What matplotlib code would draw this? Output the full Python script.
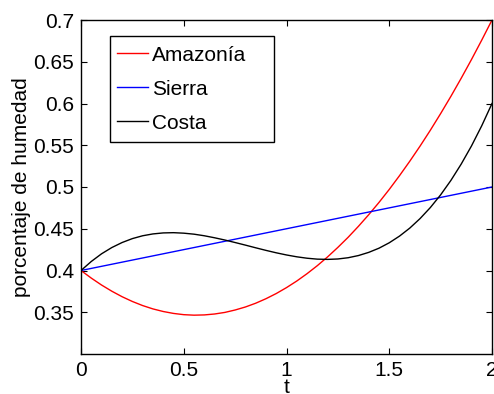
import matplotlib
matplotlib.use("Agg")
import matplotlib.pyplot as plt
from matplotlib.patches import Rectangle

plt.rcParams['font.family'] = ['Liberation Sans', 'DejaVu Sans']

# Humidity percentage over time for three regions
t = [0.0, 0.05, 0.1, 0.15, 0.2, 0.25, 0.3, 0.35, 0.4, 0.45, 0.5,
     0.55, 0.6, 0.65, 0.7, 0.75, 0.8, 0.85, 0.9, 0.95, 1.0,
     1.05, 1.1, 1.15, 1.2, 1.25, 1.3, 1.35, 1.4, 1.45, 1.5,
     1.55, 1.6, 1.65, 1.7, 1.75, 1.8, 1.85, 1.9, 1.95, 2.0]
amazonia = [0.4000, 0.3909, 0.3826, 0.3752, 0.3686, 0.3629, 0.3580, 0.3540,
            0.3509, 0.3486, 0.3471, 0.3465, 0.3468, 0.3479, 0.3498, 0.3527,
            0.3563, 0.3608, 0.3662, 0.3724, 0.3795, 0.3874, 0.3962, 0.4058,
            0.4163, 0.4277, 0.4398, 0.4529, 0.4668, 0.4815, 0.4971, 0.5136,
            0.5309, 0.5490, 0.5680, 0.5879, 0.6086, 0.6302, 0.6526, 0.6759,
            0.7000]
sierra = [0.4000, 0.4025, 0.4050, 0.4075, 0.4100, 0.4125, 0.4150, 0.4175,
          0.4200, 0.4225, 0.4250, 0.4275, 0.4300, 0.4325, 0.4350, 0.4375,
          0.4400, 0.4425, 0.4450, 0.4475, 0.4500, 0.4525, 0.4550, 0.4575,
          0.4600, 0.4625, 0.4650, 0.4675, 0.4700, 0.4725, 0.4750, 0.4775,
          0.4800, 0.4825, 0.4850, 0.4875, 0.4900, 0.4925, 0.4950, 0.4975,
          0.5000]
costa = [0.4000, 0.4108, 0.4200, 0.4275, 0.4335, 0.4382, 0.4416, 0.4438,
         0.4450, 0.4453, 0.4447, 0.4435, 0.4416, 0.4392, 0.4365, 0.4335,
         0.4304, 0.4272, 0.4241, 0.4212, 0.4186, 0.4164, 0.4147, 0.4136,
         0.4133, 0.4138, 0.4153, 0.4179, 0.4217, 0.4267, 0.4332, 0.4412,
         0.4508, 0.4622, 0.4754, 0.4906, 0.5079, 0.5274, 0.5491, 0.5733,
         0.6000]

labels = ['Amazonía', 'Sierra', 'Costa']
xticks = [0, 0.5, 1, 1.5, 2]
xtick_labels = ['0', '0.5', '1', '1.5', '2']
yticks = [0.35, 0.4, 0.45, 0.5, 0.55, 0.6, 0.65, 0.7]
ytick_labels = ['0.35', '0.4', '0.45', '0.5', '0.55', '0.6', '0.65', '0.7']

fig = plt.figure(figsize=(4.94, 3.94), dpi=100)
ax = fig.add_axes([81 / 494, 40 / 394, 411 / 494, 334 / 394])

ax.plot(t, amazonia, color='#ff0000', lw=1.0, label=labels[0])
ax.plot(t, sierra, color='#0000ff', lw=1.0, label=labels[1])
ax.plot(t, costa, color='#000000', lw=1.0, label=labels[2])

ax.set_xlim(0, 2)
ax.set_ylim(0.3, 0.7)
ax.set_xticks(xticks)
ax.set_xticklabels(xtick_labels)
ax.set_yticks(yticks)
ax.set_yticklabels(ytick_labels)
ax.tick_params(direction='in', length=4, width=0.8, labelsize=15,
               top=True, right=True, pad=5)
for s in ax.spines.values():
    s.set_linewidth(1.0)

ax.set_xlabel('t', fontsize=15, labelpad=-1.5)
ax.set_ylabel('porcentaje de humedad', fontsize=15, labelpad=2)

# legend entries without frame, boxed by a separate rectangle
leg = ax.legend(loc='center left', bbox_to_anchor=(0.0876, 0.7934),
                fontsize=15, frameon=False, borderpad=0, labelspacing=0.72,
                handlelength=1.5, handletextpad=0.2, borderaxespad=0)
box = Rectangle((0.0706, 0.635), 0.399, 0.318, transform=ax.transAxes,
                facecolor='white', edgecolor='black', lw=1.0, zorder=4)
ax.add_patch(box)
leg.set_zorder(5)

fig.savefig('out.png', dpi=100)
